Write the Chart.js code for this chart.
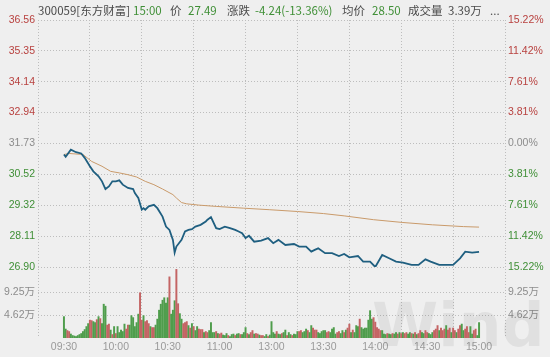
<!DOCTYPE html>
<html><head><meta charset="utf-8">
<script src="https://cdn.jsdelivr.net/npm/chart.js@4"></script>
<style>
html,body{margin:0;padding:0;background:#efefef;}
#wrap{position:relative;width:550px;height:357px;overflow:hidden;background:#efefef;}
canvas{position:absolute;left:0;top:0;}
#hdr{position:absolute;left:0;top:0;width:550px;height:18px;font-family:"Noto Sans CJK SC",sans-serif;font-size:11.5px;line-height:18px;color:#4a4a4a;white-space:nowrap;}
#hdr span{position:absolute;top:1px;}
#hdr .g{color:#3f8f36;}
</style></head><body>
<div id="wrap">
<canvas id="c" width="550" height="357"></canvas>
<div id="hdr">
<span style="left:38px">300059[东方财富]</span>
<span class="g" style="left:133px">15:00</span>
<span style="left:170px">价</span>
<span class="g" style="left:188px">27.49</span>
<span style="left:227px">涨跌</span>
<span class="g" style="left:255px">-4.24(-13.36%)</span>
<span style="left:342px">均价</span>
<span class="g" style="left:372px">28.50</span>
<span style="left:408px">成交量</span>
<span style="left:448px">3.39万</span>
<span style="left:490px">...</span>
</div>
</div>
<script>
const prevClose = 31.73;
const timeTickMinutes = [0,30,60,90,120,150,180,210,240];
const timeLabels = ['09:30','10:00','10:30','11:00','13:00','13:30','14:00','14:30','15:00'];
const priceTicks = [26.90,28.11,29.32,30.52,31.73,32.94,34.14,35.35,36.56];
const priceTickLabels = ['26.90','28.11','29.32','30.52','31.73','32.94','34.14','35.35','36.56'];
const pctTickLabels = ['15.22%','11.42%','7.61%','3.81%','0.00%','3.81%','7.61%','11.42%','15.22%'];
const volTicks = [4.62, 9.25];
const volTickLabels = ['4.62万','9.25万'];

const priceMinutes = [0,1,4,7,10,12,15,17,20,22,24,26,28,30,32,34,37,40,41,43,45,46,47,49,52,54,57,59,61,63,64,65,68,70,72,74,76,79,82,83,85,88,90,93,96,99,101,103,105,107,110,114,118,121,124,128,133,136,140,143,145,147,151,155,159,162,165,170,173,177,180,184,188,192,196,201,205,209,212,217,221,225,229,232,236,240];
const priceValues = [31.30,31.21,31.49,31.39,31.34,31.17,30.84,30.64,30.45,30.25,29.95,30.05,30.25,30.25,30.29,30.12,29.99,29.95,29.79,29.60,29.14,29.20,29.14,29.27,29.33,29.20,28.87,28.48,28.35,27.96,27.46,27.70,27.96,28.29,28.35,28.38,28.48,28.55,28.68,28.75,28.85,28.42,28.38,28.48,28.42,28.35,28.29,28.22,28.03,28.12,27.89,27.93,28.03,27.83,27.96,27.76,27.80,27.70,27.70,27.50,27.57,27.63,27.44,27.44,27.33,27.41,27.28,27.33,27.11,27.11,26.90,27.37,27.24,27.11,27.07,26.98,26.98,27.20,27.11,26.98,26.98,26.98,27.24,27.50,27.46,27.49];

const avgMinutes = [0,3,11,16,22,27,32,37,42,47,52,57,63,65,68,71,78,88,104,119,135,150,162,179,196,213,231,240];
const avgValues = [31.30,31.34,31.30,31.03,30.84,30.64,30.58,30.51,30.42,30.25,30.12,29.95,29.73,29.60,29.42,29.37,29.32,29.27,29.20,29.14,29.07,28.99,28.90,28.75,28.64,28.55,28.48,28.46];

// volume per minute (万), index = minute from 09:30
const volumes = [
4.3,1.8,1.5,1.3,0.8,0.5,0.4,0.3,0.5,0.7,
0.9,1.3,1.7,2.3,2.9,3.6,3.5,3.3,3.1,3.7,
4.3,3.9,2.9,6.8,6.4,2.6,2.8,1.6,0.7,2.3,
0.9,2.3,1.1,1.6,1.3,2.8,1.8,2.6,2.6,4.5,
4.1,2.3,3.1,4.8,9.1,3.6,4.5,3.3,3.5,2.9,
2.3,2.1,2.1,2.6,3.8,5.6,6.8,7.6,8.1,7.0,
8.1,12.3,4.8,5.6,7.5,13.8,6.9,4.9,3.8,2.9,
3.1,3.3,2.5,2.0,2.9,2.3,1.5,2.3,1.8,1.7,
1.7,1.1,1.3,1.1,1.5,3.1,1.1,1.1,1.3,0.9,
0.8,1.0,0.6,0.5,0.9,0.5,0.3,0.7,0.8,0.5,
0.8,0.9,0.7,0.7,1.1,2.1,0.9,0.7,1.1,1.5,
0.8,0.9,0.8,0.6,0.5,0.5,0.3,0.7,0.3,0.6,
3.3,1.1,0.8,1.3,0.8,0.7,0.9,1.1,1.6,0.5,
1.1,0.7,0.5,0.8,0.7,1.3,1.3,1.5,1.1,1.3,
1.8,1.5,1.1,2.5,2.0,1.6,1.6,1.1,0.9,1.3,
1.5,1.5,1.1,1.3,1.1,1.8,2.1,0.8,1.1,1.3,
0.9,1.5,1.1,1.6,2.0,2.8,1.1,1.6,1.1,2.5,
2.3,3.8,2.1,1.8,2.0,2.0,3.6,5.5,3.8,4.1,
3.2,2.1,1.8,1.5,1.5,0.8,0.7,0.9,0.8,0.7,
0.9,0.8,1.1,0.8,1.1,0.9,1.1,0.9,1.1,0.8,
1.1,0.9,0.8,1.1,0.7,0.9,1.5,1.1,0.9,1.5,
1.1,0.9,0.7,1.1,1.5,1.8,2.5,1.5,2.0,1.5,
1.8,2.5,1.6,2.0,1.1,2.0,1.5,1.1,1.8,2.5,
2.8,1.5,1.8,2.3,1.1,2.3,0.8,1.5,1.8,0.5,
3.1];
// 1 = price up in that minute, 0 = down
const volumeUp = [
0,0,1,1,0,0,0,0,0,0,
0,0,0,0,0,1,1,0,0,1,
0,1,0,0,0,1,1,0,1,0,
1,0,0,0,0,0,1,1,0,0,
0,0,0,0,1,1,0,1,1,1,
0,1,1,0,0,0,0,0,0,0,
0,1,0,0,0,1,1,0,0,1,
1,1,0,1,0,1,0,0,1,1,
1,0,1,1,0,0,0,0,1,0,
1,1,0,0,0,1,0,0,0,1,
0,0,1,0,0,0,1,0,1,1,
0,1,1,0,1,1,0,0,1,0,
0,0,0,1,0,0,1,0,0,1,
0,0,1,0,0,0,1,1,0,0,
0,1,0,0,1,1,1,0,0,0,
0,0,1,1,0,0,0,0,1,1,
0,0,1,0,1,1,0,1,0,0,
0,1,0,0,0,0,0,0,0,1,
1,1,1,1,0,0,0,1,0,0,
1,0,0,1,0,1,0,1,1,0,
0,1,0,1,0,1,1,0,0,1,
1,0,0,0,1,1,1,0,1,1,
1,0,1,1,0,1,1,0,1,1,
0,0,1,1,1,0,0,1,1,0,
0];

const RED = '#b8413f', GREEN = '#3f8f36', GRAY = '#8c8c8c';
const BAR_RED = '#c46464', BAR_GREEN = '#4f9d4c';
const GRID = '#bdbdbd';
const tickFont = {family:'"Liberation Sans","Noto Sans CJK SC",sans-serif', size:10.5};
const priceColor = ctx => {
  const v = ctx.tick ? ctx.tick.value : 0;
  if (Math.abs(v - prevClose) < 0.001) return GRAY;
  return v > prevClose ? RED : GREEN;
};
const PRICE_W = 247, VOL_W = 71;

const watermark = {
  id: 'watermark',
  beforeDatasetsDraw(chart) {
    const c = chart.ctx;
    c.save();
    c.font = 'bold 60px "DejaVu Sans", sans-serif';
    c.fillStyle = 'rgba(0,0,0,0.06)';
    c.textBaseline = 'alphabetic';
    c.fillText('Wind', 372, 346);
    c.restore();
  }
};

new Chart(document.getElementById('c'), {
  type: 'bar',
  plugins: [watermark],
  data: {
    datasets: [
      {
        type: 'line',
        data: priceMinutes.map((m, i) => ({x: m, y: priceValues[i]})),
        xAxisID: 'x', yAxisID: 'y',
        borderColor: '#1f5f80', borderWidth: 1.8, pointRadius: 0, tension: 0, order: 1
      },
      {
        type: 'line',
        data: avgMinutes.map((m, i) => ({x: m, y: avgValues[i]})),
        xAxisID: 'x', yAxisID: 'y',
        borderColor: '#c99a6a', borderWidth: 1, pointRadius: 0, tension: 0, order: 2
      },
      {
        type: 'bar',
        data: volumes.map((v, i) => ({x: i, y: v})),
        xAxisID: 'x', yAxisID: 'yVol',
        backgroundColor: volumeUp.map(u => u ? BAR_RED : BAR_GREEN),
        barThickness: 1.3, grouped: false, order: 3
      }
    ]
  },
  options: {
    responsive: false, animation: false, devicePixelRatio: 1,
    layout: {padding: {top: 20, left: 0, right: 0, bottom: 0}},
    plugins: {legend: {display: false}, tooltip: {enabled: false}},
    scales: {
      x: {
        type: 'linear', position: 'bottom', min: 0, max: 240,
        afterBuildTicks: s => { s.ticks = timeTickMinutes.map(v => ({value: v})); },
        afterFit: s => { s.height = 19; },
        ticks: {callback: (v, i) => timeLabels[i], color: '#9a9a9a', font: tickFont, padding: 3, maxRotation: 0, autoSkip: false},
        grid: {color: GRID, drawTicks: false},
        border: {display: false, dash: [1, 2]}
      },
      yVol: {
        type: 'linear', position: 'left', stack: 'L', stackWeight: VOL_W,
        min: 0, max: 14.28,
        afterBuildTicks: s => { s.ticks = volTicks.map(v => ({value: v})); },
        afterFit: s => { s.width = 38; },
        ticks: {callback: (v, i) => volTickLabels[i], color: GRAY, font: tickFont, padding: 3, autoSkip: false},
        grid: {color: GRID, drawTicks: false},
        border: {display: false, dash: [1, 2]}
      },
      y: {
        type: 'linear', position: 'left', stack: 'L', stackWeight: PRICE_W,
        min: 26.90, max: 36.56,
        afterBuildTicks: s => { s.ticks = priceTicks.map(v => ({value: v})); },
        afterFit: s => { s.width = 38; },
        ticks: {callback: (v, i) => priceTickLabels[i], color: priceColor, font: tickFont, padding: 3, autoSkip: false},
        grid: {color: GRID, drawTicks: false},
        border: {display: false, dash: [1, 2]}
      },
      yR: {
        type: 'linear', position: 'right', stack: 'R', stackWeight: PRICE_W,
        min: 26.90, max: 36.56,
        afterBuildTicks: s => { s.ticks = priceTicks.map(v => ({value: v})); },
        afterFit: s => { s.width = 45; },
        ticks: {callback: (v, i) => pctTickLabels[i], color: priceColor, font: tickFont, padding: 3, autoSkip: false},
        grid: {drawOnChartArea: false, drawTicks: false},
        border: {display: false}
      },
      yVolR: {
        type: 'linear', position: 'right', stack: 'R', stackWeight: VOL_W,
        min: 0, max: 14.28,
        afterBuildTicks: s => { s.ticks = volTicks.map(v => ({value: v})); },
        afterFit: s => { s.width = 45; },
        ticks: {callback: (v, i) => volTickLabels[i], color: GRAY, font: tickFont, padding: 3, autoSkip: false},
        grid: {drawOnChartArea: false, drawTicks: false},
        border: {display: false}
      }
    }
  }
});
</script>
</body></html>
